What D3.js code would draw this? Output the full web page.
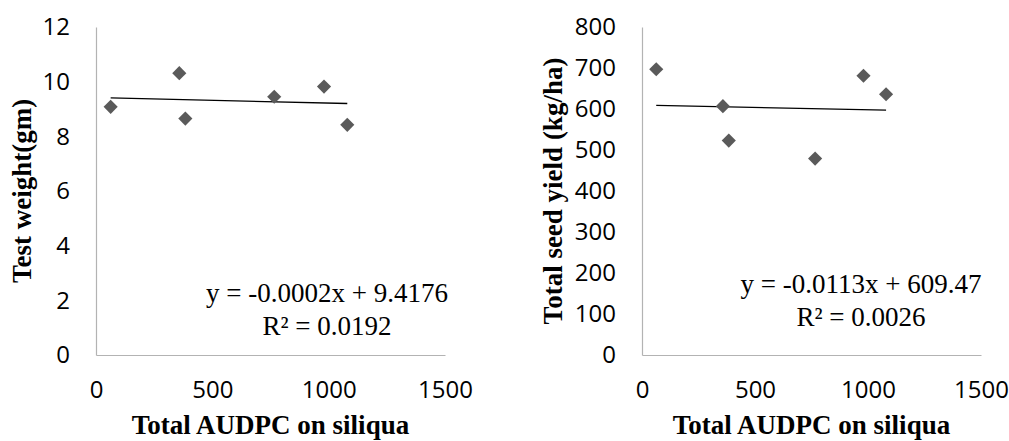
<!DOCTYPE html>
<html>
  <head>
    <title>AUDPC scatter</title>
    <script src="https://cdn.jsdelivr.net/npm/d3@7"></script>
    <style>
      body { margin: 0; background: #fff; }
    </style>
  </head>
  <body>
    <script>
      // data
      const audpc = [63, 358, 384, 766, 980, 1080];
      const testWeight = [9.08, 10.31, 8.65, 9.45, 9.82, 8.42];
      const seedYield = [697, 607, 523, 479, 681, 636];

      const xTicks = [0, 500, 1000, 1500];
      const weightTicks = [0, 2, 4, 6, 8, 10, 12];
      const yieldTicks = [0, 100, 200, 300, 400, 500, 600, 700, 800];

      // trendline coefficients printed on the chart
      const weightFit = { slope: -0.0002, icept: 9.4176, eq: "y = -0.0002x + 9.4176", r2: "R² = 0.0192" };
      const yieldFit = { slope: -0.0113, icept: 609.47, eq: "y = -0.0113x + 609.47", r2: "R² = 0.0026" };

      const w = 1009;
      const h = 441;

      const svg = d3.select("body").append("svg")
        .attr("width", w)
        .attr("height", h);

      function drawPanel(opt) {
        const x = d3.scaleLinear().domain([0, 1500]).range([opt.left, opt.right]);
        const y = d3.scaleLinear().domain([0, opt.yMax]).range([355, 27]);
        const g = svg.append("g");

        // axes (no tick marks, light grey lines)
        const xAxis = g.append("g")
          .attr("transform", "translate(0," + y(0) + ")")
          .call(d3.axisBottom(x).tickValues(xTicks).tickSize(0).tickPadding(0).tickFormat(d3.format("d")));
        xAxis.select(".domain").attr("stroke", "#b3b3b3").attr("stroke-width", 1.2);
        xAxis.selectAll("text")
          .attr("y", 35)
          .attr("dy", "0.35em")
          .attr("font-family", "Open Sans, sans-serif")
          .attr("font-size", "24px")
          .attr("fill", "#000");

        const yAxis = g.append("g")
          .attr("transform", "translate(" + x(0) + ",0)")
          .call(d3.axisLeft(y).tickValues(opt.yTicks).tickSize(0).tickPadding(26).tickFormat(d3.format("d")));
        yAxis.select(".domain").attr("stroke", "#b3b3b3").attr("stroke-width", 1.2);
        yAxis.selectAll("text")
          .attr("font-family", "Open Sans, sans-serif")
          .attr("font-size", "24px")
          .attr("fill", "#000");

        // trendline
        const x0 = d3.min(audpc), x1 = d3.max(audpc);
        g.append("line")
          .attr("x1", x(x0)).attr("y1", y(opt.fit.icept + opt.fit.slope * x0))
          .attr("x2", x(x1)).attr("y2", y(opt.fit.icept + opt.fit.slope * x1))
          .attr("stroke", "#000")
          .attr("stroke-width", 1.3);

        // diamonds
        g.selectAll("path.pt")
          .data(audpc)
          .enter()
          .append("path")
          .attr("class", "pt")
          .attr("d", d3.symbol(d3.symbolSquare, 100))
          .attr("transform", function (d, i) {
            return "translate(" + x(d) + "," + y(opt.values[i]) + ") rotate(45)";
          })
          .attr("fill", "#5a5a5a");

        // equation
        const eq = g.append("text")
          .attr("font-family", "Liberation Serif, Times New Roman, serif")
          .attr("font-size", "27px")
          .attr("text-anchor", "middle")
          .attr("fill", "#000");
        eq.append("tspan").attr("x", opt.eqX).attr("y", opt.eqY).text(opt.fit.eq);
        eq.append("tspan").attr("x", opt.eqX).attr("y", opt.eqY + 33).text(opt.fit.r2);

        // axis titles
        g.append("text")
          .attr("x", (opt.left + opt.right) / 2)
          .attr("y", 434)
          .attr("text-anchor", "middle")
          .attr("font-family", "Liberation Serif, Times New Roman, serif")
          .attr("font-weight", "bold")
          .attr("font-size", "27px")
          .text("Total AUDPC on siliqua");

        g.append("text")
          .attr("transform", "translate(" + opt.yTitleX + ",191) rotate(-90)")
          .attr("text-anchor", "middle")
          .attr("font-family", "Liberation Serif, Times New Roman, serif")
          .attr("font-weight", "bold")
          .attr("font-size", "27px")
          .text(opt.yTitle);
      }

      drawPanel({
        left: 96, right: 445, yMax: 12, yTicks: weightTicks, values: testWeight,
        fit: weightFit, eqX: 327, eqY: 302, yTitleX: 31,
        yTitle: "Test weight(gm)"
      });

      drawPanel({
        left: 642, right: 981, yMax: 800, yTicks: yieldTicks, values: seedYield,
        fit: yieldFit, eqX: 861, eqY: 293, yTitleX: 562,
        yTitle: "Total seed yield (kg/ha)"
      });
    </script>
  </body>
</html>
